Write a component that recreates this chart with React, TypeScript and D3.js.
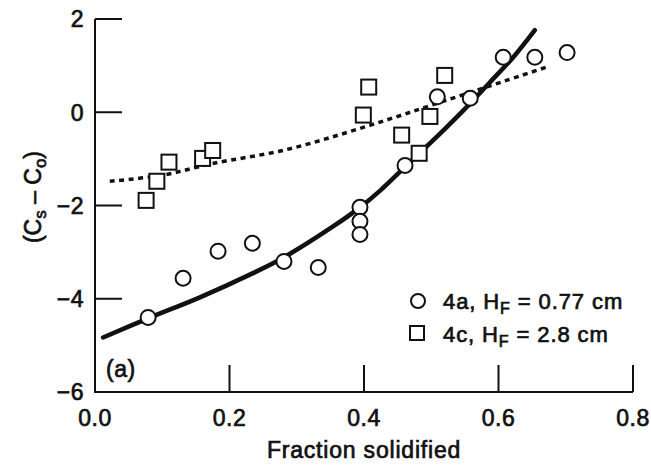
import * as React from 'react';
import * as d3 from 'd3';

const W = 651;
const H = 467;

// run 4a (circles)
const run4aX = [0.079, 0.131, 0.183, 0.234, 0.281, 0.332, 0.394, 0.394, 0.394, 0.461, 0.509, 0.558, 0.607, 0.654, 0.702];
const run4aY = [-4.40, -3.56, -2.98, -2.81, -3.20, -3.33, -2.04, -2.34, -2.62, -1.14, 0.33, 0.30, 1.18, 1.18, 1.28];

// run 4c (squares)
const run4cX = [0.076, 0.092, 0.110, 0.160, 0.175, 0.399, 0.407, 0.456, 0.482, 0.498, 0.520];
const run4cY = [-1.89, -1.48, -1.07, -0.99, -0.82, -0.06, 0.54, -0.49, -0.88, -0.09, 0.79];

// fitted curves
const fit4aX = [0.012, 0.079, 0.156, 0.235, 0.28, 0.354, 0.394, 0.424, 0.461, 0.52, 0.558, 0.587, 0.622, 0.654];
const fit4aY = [-4.83, -4.42, -3.97, -3.45, -3.12, -2.45, -2.04, -1.68, -1.17, -0.36, 0.19, 0.64, 1.18, 1.76];
const fit4cX = [0.022, 0.10, 0.175, 0.285, 0.40, 0.523, 0.672];
const fit4cY = [-1.48, -1.35, -1.10, -0.80, -0.32, 0.26, 0.97];

const xTicks = [0, 0.2, 0.4, 0.6, 0.8];
const yTicks = [2, 0, -2, -4, -6];

const legendRuns = ['4a, H', '4c, H'];
const legendTails = [' = 0.77 cm', ' = 2.8 cm'];

const FONT = '"Liberation Sans", Arial, Helvetica, sans-serif';

export default function App() {
  const x = d3.scaleLinear().domain([0, 0.8]).range([95, 633]);
  const y = d3.scaleLinear().domain([-6, 2]).range([392, 19]);

  const zip = (xs: number[], ys: number[]) => xs.map((v, i) => [v, ys[i]] as [number, number]);

  const line = d3.line<[number, number]>()
    .x(d => x(d[0]))
    .y(d => y(d[1]))
    .curve(d3.curveCatmullRom.alpha(0.5));

  const fmt = (v: number) => d3.format('.0f')(v).replace('-', '\u2013');
  const textStyle = {fontFamily: FONT, fill: '#111', stroke: '#111', strokeWidth: 0.7};

  const x0 = x(0);
  const yb = y(-6);
  const tickLen = 27;

  return (
    <svg width={W} height={H} style={{position: 'absolute', left: 0, top: 0, background: '#fff'}}>
      {/* axes */}
      <g stroke="#111" strokeWidth={2} fill="none">
        <line x1={x0} y1={y(2)} x2={x0} y2={yb + 1} />
        <line x1={x0 - 1} y1={yb} x2={x(0.8)} y2={yb} />
        {yTicks.filter(t => t !== -6).map(t => (
          <line key={t} x1={x0} y1={y(t)} x2={x0 + tickLen} y2={y(t)} />
        ))}
        {xTicks.filter(t => t !== 0).map(t => (
          <line key={t} x1={x(t)} y1={yb} x2={x(t)} y2={yb - tickLen} />
        ))}
      </g>

      {/* tick labels */}
      <g {...textStyle} fontSize={23} letterSpacing={0.5}>
        {yTicks.map(t => (
          <text key={t} x={84} y={y(t)} dy="0.36em" textAnchor="end">{fmt(t)}</text>
        ))}
        {xTicks.map(t => (
          <text key={t} x={x(t)} y={426} textAnchor="middle">{d3.format('.1f')(t)}</text>
        ))}
      </g>

      {/* axis titles */}
      <text {...textStyle} fontSize={23} letterSpacing={0.8} x={x(0.4)} y={458} textAnchor="middle">Fraction solidified</text>
      <text {...textStyle} fontSize={23} transform={`translate(41,${197}) rotate(-90)`} textAnchor="middle">
        (C<tspan fontSize={17} dy={5}>s</tspan><tspan dy={-5}> – C</tspan><tspan fontSize={17} dy={5}>o</tspan><tspan dy={-5}>)</tspan>
      </text>
      <text {...textStyle} fontSize={23} letterSpacing={0.5} x={106} y={377}>(a)</text>

      {/* fitted curves */}
      <path d={line(zip(fit4cX, fit4cY)) || ''} fill="none" stroke="#111" strokeWidth={3.5} strokeDasharray="5 4.5" />
      <path d={line(zip(fit4aX, fit4aY)) || ''} fill="none" stroke="#111" strokeWidth={4.5} strokeLinecap="round" />

      {/* data */}
      <g fill="#fff" stroke="#111" strokeWidth={2}>
        {zip(run4cX, run4cY).map((d, i) => (
          <rect key={i} x={x(d[0]) - 7.5} y={y(d[1]) - 7.5} width={15} height={15} />
        ))}
        {zip(run4aX, run4aY).map((d, i) => (
          <circle key={i} cx={x(d[0])} cy={y(d[1])} r={7.5} />
        ))}
      </g>

      {/* legend */}
      <g>
        <circle cx={418} cy={301} r={7} fill="#fff" stroke="#111" strokeWidth={2} />
        <rect x={410} y={326} width={14} height={14} fill="#fff" stroke="#111" strokeWidth={2} />
        {legendRuns.map((r, i) => (
          <text key={r} {...textStyle} fontSize={22} letterSpacing={0.9} x={443} y={309 + i * 33}>
            {r}<tspan fontSize={16} dy={5}>F</tspan><tspan dy={-5}>{legendTails[i]}</tspan>
          </text>
        ))}
      </g>
    </svg>
  );
}
